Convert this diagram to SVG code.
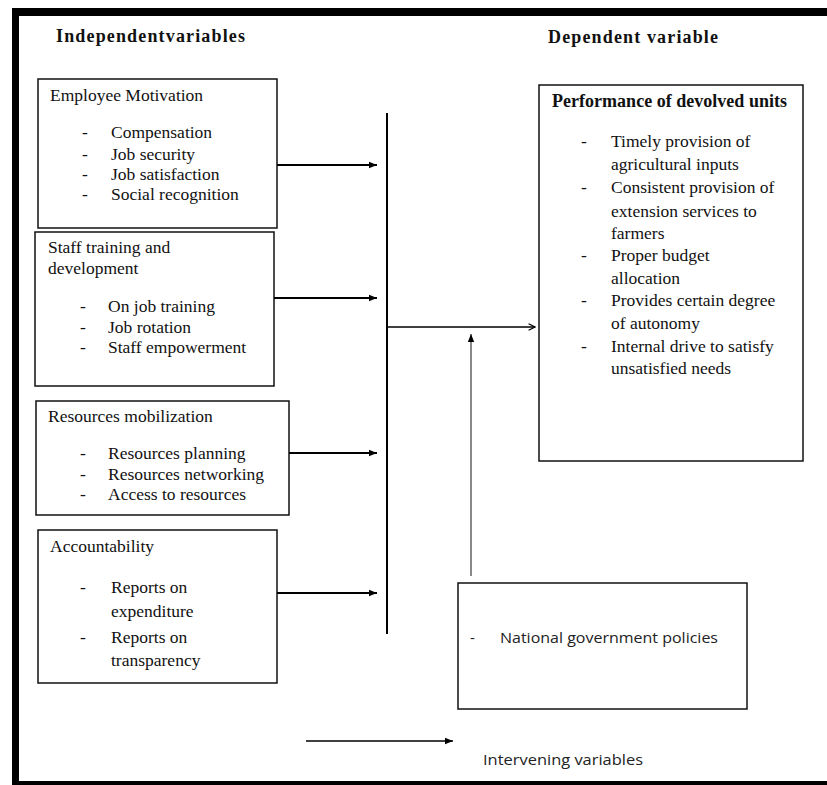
<svg xmlns="http://www.w3.org/2000/svg" width="827" height="785" viewBox="0 0 827 785">
<defs>
<style>
.t{font-family:"Liberation Serif","Times New Roman",serif;font-size:17.5px;fill:#111}
.b{font-family:"Liberation Serif","Times New Roman",serif;font-size:18px;font-weight:bold;fill:#111}
.s{font-family:"Open Sans","Liberation Sans",sans-serif;font-size:15px;fill:#222}
.box{fill:#fff;stroke:#111;stroke-width:1.5}
.ln{stroke:#000;stroke-width:2;fill:none}
</style>
<marker id="ah" viewBox="0 0 10 10" refX="10" refY="5" markerWidth="10" markerHeight="8" markerUnits="userSpaceOnUse" orient="auto">
<path d="M0,1 L10,5 L0,9 Z" fill="#000"/>
</marker>
<marker id="ao" viewBox="0 0 10 10" refX="9" refY="5" markerWidth="8" markerHeight="8" markerUnits="userSpaceOnUse" orient="auto">
<path d="M1,1 L9,5 L1,9" fill="none" stroke="#000" stroke-width="1.5"/>
</marker>
</defs>
<rect width="827" height="785" fill="#fff"/>
<g id="frame">
<rect x="12" y="8" width="815" height="8" fill="#000"/>
<rect x="12" y="8" width="7" height="777" fill="#000"/>
<rect x="12" y="781" width="815" height="4" fill="#000"/>
</g>
<g id="headings">
<text class="b" x="56" y="42" textLength="189" lengthAdjust="spacing">Independentvariables</text>
<text class="b" x="548" y="43" textLength="170" lengthAdjust="spacing">Dependent variable</text>
<text class="s" x="483" y="765" textLength="160" lengthAdjust="spacingAndGlyphs">Intervening variables</text>
</g>
<g id="employee-motivation">
<rect class="box" x="38" y="79" width="239" height="149"/>
<text class="t" x="50" y="101">Employee Motivation</text>
<text class="t" x="82" y="138">-</text><text class="t" x="111" y="138">Compensation</text>
<text class="t" x="82" y="160">-</text><text class="t" x="111" y="160">Job security</text>
<text class="t" x="82" y="180">-</text><text class="t" x="111" y="180">Job satisfaction</text>
<text class="t" x="82" y="200">-</text><text class="t" x="111" y="200">Social recognition</text>
</g>
<g id="staff-training">
<rect class="box" x="35" y="232" width="239" height="154"/>
<text class="t" x="48" y="253">Staff training and</text>
<text class="t" x="48" y="274">development</text>
<text class="t" x="80" y="312">-</text><text class="t" x="108" y="312">On job training</text>
<text class="t" x="80" y="333">-</text><text class="t" x="108" y="333">Job rotation</text>
<text class="t" x="80" y="353">-</text><text class="t" x="108" y="353">Staff empowerment</text>
</g>
<g id="resources-mobilization">
<rect class="box" x="36" y="401" width="253" height="114"/>
<text class="t" x="48" y="422">Resources mobilization</text>
<text class="t" x="80" y="459">-</text><text class="t" x="108" y="459">Resources planning</text>
<text class="t" x="80" y="480">-</text><text class="t" x="108" y="480">Resources networking</text>
<text class="t" x="80" y="500">-</text><text class="t" x="108" y="500">Access to resources</text>
</g>
<g id="accountability">
<rect class="box" x="38" y="530" width="239" height="153"/>
<text class="t" x="50" y="552">Accountability</text>
<text class="t" x="80" y="593">-</text><text class="t" x="111" y="593">Reports on</text>
<text class="t" x="111" y="617">expenditure</text>
<text class="t" x="80" y="643">-</text><text class="t" x="111" y="643">Reports on</text>
<text class="t" x="111" y="666">transparency</text>
</g>
<g id="performance">
<rect class="box" x="539" y="85" width="264" height="376" stroke-width="2"/>
<text class="b" x="552" y="107" font-size="17" textLength="235" lengthAdjust="spacing">Performance of devolved units</text>
<text class="t" x="581" y="147">-</text><text class="t" x="611" y="147">Timely provision of</text>
<text class="t" x="611" y="170">agricultural inputs</text>
<text class="t" x="581" y="193">-</text><text class="t" x="611" y="193">Consistent provision of</text>
<text class="t" x="611" y="217">extension services to</text>
<text class="t" x="611" y="239">farmers</text>
<text class="t" x="581" y="261">-</text><text class="t" x="611" y="261">Proper budget</text>
<text class="t" x="611" y="284">allocation</text>
<text class="t" x="581" y="306">-</text><text class="t" x="611" y="306">Provides certain degree</text>
<text class="t" x="611" y="329">of autonomy</text>
<text class="t" x="581" y="352">-</text><text class="t" x="611" y="352">Internal drive to satisfy</text>
<text class="t" x="611" y="374">unsatisfied needs</text>
</g>
<g id="national-policies">
<rect class="box" x="458" y="583" width="289" height="126"/>
<text class="s" x="470" y="643">-</text>
<text class="s" x="500" y="643" textLength="218" lengthAdjust="spacingAndGlyphs">National government policies</text>
</g>
<g id="connectors">
<line class="ln" x1="277" y1="165" x2="377" y2="165" marker-end="url(#ah)"/>
<line class="ln" x1="274" y1="298" x2="377" y2="298" marker-end="url(#ah)"/>
<line class="ln" x1="289" y1="453" x2="377" y2="453" marker-end="url(#ah)"/>
<line class="ln" x1="277" y1="593" x2="377" y2="593" marker-end="url(#ah)"/>
<line class="ln" x1="387" y1="113" x2="387" y2="634"/>
<line x1="387" y1="327" x2="535" y2="327" stroke="#000" stroke-width="1.3" marker-end="url(#ao)"/>
<line x1="471" y1="576" x2="471" y2="334" stroke="#888" stroke-width="2" marker-end="url(#ah)"/>
<line x1="306" y1="741" x2="453" y2="741" stroke="#000" stroke-width="1.3" marker-end="url(#ah)"/>
</g>
</svg>
